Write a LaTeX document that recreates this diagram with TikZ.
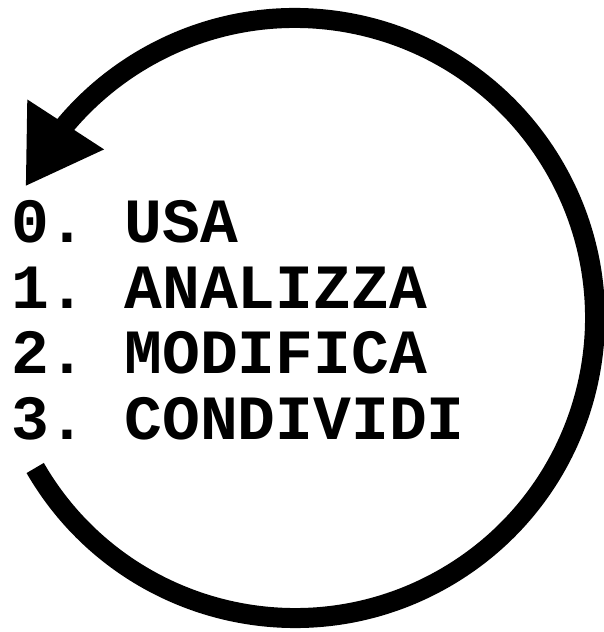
\documentclass[tikz,border=0pt]{standalone}
\usepackage{fontspec}
\setmonofont{Liberation Mono}
\usetikzlibrary{arrows.meta,bending}

\begin{document}
\begin{tikzpicture}[x=1pt, y=1pt,
    steplabel/.style={anchor=base west, inner sep=0pt, font=\ttfamily\bfseries\fontsize{63}{65}\selectfont},
    cyclearrow/.style={line width=20pt, -{Triangle[length=74pt, width=86pt]}}
]
\useasboundingbox (0,0) rectangle (603,632);
\coordinate (hub) at (295,314);
\coordinate (start) at ([shift={(210:300)}]hub);
\draw[cyclearrow] (start) arc[start angle=210, end angle=514, radius=300];
\node[steplabel] (usa) at (11,389) {0. USA};
\node[steplabel] (analizza) at (11,323.5) {1. ANALIZZA};
\node[steplabel] (modifica) at (11,258) {2. MODIFICA};
\node[steplabel] (condividi) at (11,192.5) {3. CONDIVIDI};
\end{tikzpicture}
\end{document}
